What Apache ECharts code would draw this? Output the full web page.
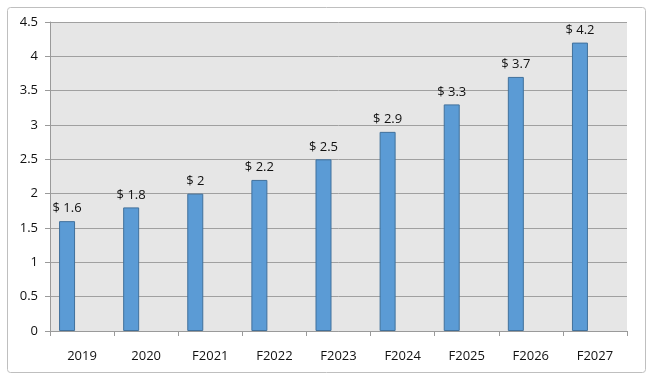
<!DOCTYPE html>
<html><head><meta charset="utf-8">
<script src="https://cdn.jsdelivr.net/npm/echarts@6/dist/echarts.min.js"></script>
<style>html,body{margin:0;padding:0;background:#fff}#c{width:650px;height:379px}</style>
</head><body><div id="c"></div>
<script>
var categories = ['2019','2020','F2021','F2022','F2023','F2024','F2025','F2026','F2027'];
var values = [1.6, 1.8, 2, 2.2, 2.5, 2.9, 3.3, 3.7, 4.2];
var spacer = [null, null, null, null, null, null, null, null, null];
var yTicks = {min: 0, max: 4.5, interval: 0.5};

var chart = echarts.init(document.getElementById('c'));
var font = '"Open Sans", "DejaVu Sans", sans-serif';
chart.setOption({
  animation: false,
  graphic: [{
    type: 'rect', left: 5, top: 5,
    shape: {width: 638, height: 365, r: 3},
    style: {fill: 'none', stroke: '#bfbfbf', lineWidth: 1}, z: -10
  }],
  grid: {left: 50, right: 23, top: 22, bottom: 48, show: true, backgroundColor: '#e6e6e6', borderWidth: 0},
  xAxis: {
    type: 'category', data: categories,
    axisLine: {lineStyle: {color: '#9a9a9a'}},
    axisTick: {show: true, length: 5, lineStyle: {color: '#9a9a9a'}},
    axisLabel: {color: '#111', fontSize: 13, fontFamily: font, margin: 19}
  },
  yAxis: {
    type: 'value', min: yTicks.min, max: yTicks.max, interval: yTicks.interval,
    axisLine: {show: true, lineStyle: {color: '#9a9a9a'}},
    axisTick: {show: true, length: 5, lineStyle: {color: '#9a9a9a'}},
    splitLine: {lineStyle: {color: '#a0a0a0'}},
    axisLabel: {color: '#111', fontSize: 13, fontFamily: font, margin: 12}
  },
  series: [{
    type: 'bar', data: values, barWidth: 16, barGap: '87.5%',
    itemStyle: {color: '#5b9bd5', borderColor: '#41719c', borderWidth: 1},
    label: {show: true, position: 'top', distance: 6, color: '#111', fontSize: 13, fontFamily: font,
      formatter: function(p){ return '$ ' + p.value; }}
  }, {
    type: 'bar', data: spacer, barWidth: 16, silent: true
  }]
});
</script></body></html>
